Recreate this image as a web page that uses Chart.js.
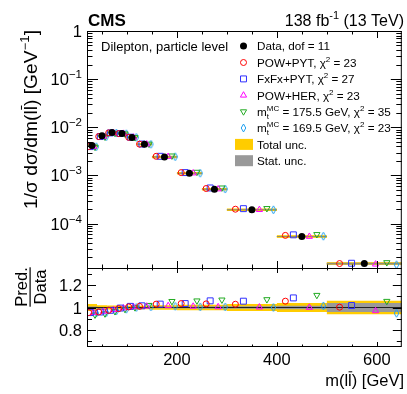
<!DOCTYPE html>
<html><head><meta charset="utf-8">
<script src="https://cdn.jsdelivr.net/npm/chart.js@4.4.1/dist/chart.umd.min.js"></script>
<style>
html,body{margin:0;padding:0;background:#fff;}
#wrap{position:relative;width:407px;height:394px;overflow:hidden;}
canvas{position:absolute;left:0;top:0;}
</style></head><body>
<div id="wrap"><canvas id="cTop" width="407" height="394"></canvas><canvas id="cBot" width="407" height="394"></canvas></div>
<script>
// ---------------- data ----------------
const binEdges = [20, 40, 60, 80, 100, 120, 150, 200, 250, 300, 400, 500, 650];
const dataNorm = [4.17e-3, 6.7e-3, 7.85e-3, 7.48e-3, 6.18e-3, 4.43e-3, 2.43e-3, 1.11e-3, 5.2e-4, 1.94e-4, 5.4e-5, 1.48e-5];
const ratioPowPyt  = [0.955, 0.960, 0.975, 0.990, 1.005, 1.010, 1.030, 1.035, 1.032, 1.029, 1.056, 1.003];
const ratioFxFxPyt = [0.955, 0.960, 0.975, 0.995, 1.010, 1.015, 1.030, 1.035, 1.059, 1.056, 1.085, 1.018];
const ratioPowHer  = [0.955, 0.965, 0.980, 0.995, 1.005, 1.010, 1.015, 1.010, 1.005, 1.003, 1.000, 0.970];
const ratioMt1755  = [0.935, 0.945, 0.965, 0.985, 1.000, 1.020, 1.055, 1.060, 1.068, 1.071, 1.109, 1.056];
const ratioMt1695  = [0.950, 0.955, 0.970, 0.985, 1.000, 1.005, 1.010, 1.005, 1.005, 1.000, 1.014, 0.949];
const relTotalUnc  = [0.030, 0.020, 0.017, 0.015, 0.015, 0.015, 0.020, 0.025, 0.025, 0.030, 0.040, 0.060];
const relStatUnc   = [0.008, 0.005, 0.005, 0.005, 0.005, 0.005, 0.006, 0.008, 0.010, 0.012, 0.015, 0.040];
const legendLabels = ['Data, dof = 11', 'POW+PYT, χ² = 23', 'FxFx+PYT, χ² = 27', 'POW+HER, χ² = 23', 'mt 175.5', 'mt 169.5', 'Total unc.', 'Stat. unc.'];
const xTickLabels = [200, 400, 600];
const yTickLabelsUpper = [1, 0.1, 0.01, 0.001, 0.0001];
const yTickLabelsRatio = [0.8, 1, 1.2];

// ---------------- styles ----------------
const FONT = '"Liberation Sans", Arial, Helvetica, sans-serif';
const font = (s, b) => (b ? 'bold ' : '') + s + 'px ' + FONT;
const YELLOW = '#ffcc00', GRAY = '#999999';
const mcColors = ['#ff0000', '#3030ff', '#ff00ff', '#22aa22', '#1ea0f0'];
const mcOffsets = [-0.33, -0.17, 0.15, 0.30, 0.43];
const ratioSets = [ratioPowPyt, ratioFxFxPyt, ratioPowHer, ratioMt1755, ratioMt1695];

function makeDiamond(color) {
  const c = document.createElement('canvas'); c.width = 7; c.height = 10;
  const g = c.getContext('2d'); g.strokeStyle = color; g.lineWidth = 1;
  g.beginPath(); g.moveTo(3.5, 1); g.lineTo(5.8, 5); g.lineTo(3.5, 9); g.lineTo(1.2, 5); g.closePath(); g.stroke();
  return c;
}
const diamondImg = makeDiamond(mcColors[4]);
const mcPointStyle = [
  {pointStyle: 'circle', radius: 3, rotation: 0},
  {pointStyle: 'rect', radius: 4.2, rotation: 0},
  {pointStyle: 'triangle', radius: 3.6, rotation: 0},
  {pointStyle: 'triangle', radius: 3.6, rotation: 180},
  {pointStyle: diamondImg, radius: 3, rotation: 0}
];

const centers = binEdges.slice(0, -1).map((e, i) => (e + binEdges[i + 1]) / 2);
const widths = binEdges.slice(0, -1).map((e, i) => binEdges[i + 1] - e);

function stepPts(vals) {
  const p = vals.map((v, i) => ({x: binEdges[i], y: v}));
  p.push({x: binEdges[binEdges.length - 1], y: vals[vals.length - 1]});
  return p;
}
function segPts(vals) {
  const p = [];
  vals.forEach((v, i) => { p.push({x: binEdges[i], y: v}); p.push({x: binEdges[i + 1], y: v}); p.push({x: binEdges[i + 1], y: null}); });
  return p;
}
function bandSets(hi, lo, color, order) {
  return [
    {type: 'line', data: stepPts(hi), stepped: true, fill: '+1', backgroundColor: color, borderColor: 'rgba(0,0,0,0)', borderWidth: 0, pointRadius: 0, order: order},
    {type: 'line', data: stepPts(lo), stepped: true, fill: false, borderColor: 'rgba(0,0,0,0)', borderWidth: 0, pointRadius: 0, order: order}
  ];
}
function mcSets(valsFn) {
  return ratioSets.map((r, k) => ({
    type: 'scatter',
    data: r.map((rv, i) => ({x: centers[i] + mcOffsets[k] * widths[i], y: valsFn(rv, i)})),
    pointStyle: mcPointStyle[k].pointStyle, pointRadius: mcPointStyle[k].radius, pointRotation: mcPointStyle[k].rotation,
    borderColor: mcColors[k], backgroundColor: 'rgba(0,0,0,0)', borderWidth: 1, pointHoverRadius: mcPointStyle[k].radius,
    order: 2 + k
  }));
}

// ---------------- text helpers ----------------
function measureSegs(ctx, segs) {
  let w = 0;
  for (const g of segs) { ctx.font = font(g.s, g.b); const mw = ctx.measureText(g.t).width; if (!g.noAdv) w += mw; }
  return w;
}
function drawSegs(ctx, segs, x, y, align) {
  let w = measureSegs(ctx, segs);
  let cx = align === 'right' ? x - w : (align === 'center' ? x - w / 2 : x);
  ctx.textBaseline = 'alphabetic'; ctx.textAlign = 'left';
  for (const g of segs) {
    ctx.font = font(g.s, g.b);
    const mw = ctx.measureText(g.t).width;
    ctx.fillText(g.t, cx, y + (g.dy || 0));
    if (g.bar) { ctx.save(); ctx.strokeStyle = ctx.fillStyle; ctx.lineWidth = 1; ctx.beginPath(); ctx.moveTo(cx + 0.5, y - g.s * 0.86); ctx.lineTo(cx + mw + 0.5, y - g.s * 0.86); ctx.stroke(); ctx.restore(); }
    if (!g.noAdv) cx += mw;
  }
}
function drawMarker(ctx, k, x, y) {
  ctx.save();
  ctx.strokeStyle = mcColors[k]; ctx.lineWidth = 1; ctx.fillStyle = 'rgba(0,0,0,0)';
  const st = mcPointStyle[k];
  if (typeof st.pointStyle !== 'string') { ctx.drawImage(st.pointStyle, Math.round(x - st.pointStyle.width / 2), Math.round(y - st.pointStyle.height / 2)); }
  else if (Chart.helpers && Chart.helpers.drawPoint) {
    Chart.helpers.drawPoint(ctx, {pointStyle: st.pointStyle, radius: st.radius, rotation: st.rotation, borderWidth: 1}, x, y);
  }
  ctx.restore();
}

// ---------------- decorations plugin ----------------
function ticksX(ctx, ca, xs, majLen, minLen, top, bottom) {
  for (let v = 50; v < 650; v += 50) {
    const px = Math.round(xs.getPixelForValue(v)) + 0.5;
    const L = (v % 200 === 0) ? majLen : minLen;
    ctx.beginPath();
    if (bottom) { ctx.moveTo(px, ca.bottom); ctx.lineTo(px, ca.bottom - L); }
    if (top) { ctx.moveTo(px, ca.top); ctx.lineTo(px, ca.top + L); }
    ctx.stroke();
  }
}
const decoTop = {
  id: 'decoTop',
  afterDraw(chart) {
    const ctx = chart.ctx, ca = chart.chartArea, xs = chart.scales.x, ys = chart.scales.y;
    ctx.save();
    ctx.strokeStyle = '#000'; ctx.fillStyle = '#000'; ctx.lineWidth = 1;
    ctx.strokeRect(ca.left + 0.5, ca.top + 0.5, ca.right - ca.left - 1, ca.bottom - ca.top);
    ticksX(ctx, ca, xs, 7, 3.5, true, true);
    for (let e = -5; e <= 0; e++) {
      for (let m = 1; m <= 9; m++) {
        const v = m * Math.pow(10, e);
        if (v < ys.min || v > ys.max) continue;
        const py = Math.round(ys.getPixelForValue(v)) + 0.5;
        const L = m === 1 ? 11 : 5.5;
        ctx.beginPath(); ctx.moveTo(ca.left, py); ctx.lineTo(ca.left + L, py);
        ctx.moveTo(ca.right, py); ctx.lineTo(ca.right - L, py); ctx.stroke();
      }
    }
    // y tick labels
    yTickLabelsUpper.forEach(v => {
      const py = ys.getPixelForValue(v);
      const e = Math.round(Math.log10(v));
      const segs = e === 0 ? [{t: '1', s: 16.5}] : [{t: '10', s: 16.5}, {t: '\u2212' + (-e), s: 11.5, dy: -7}];
      drawSegs(ctx, segs, 82, py + 6, 'right');
    });
    // y title
    ctx.save();
    ctx.translate(36.5, 30); ctx.rotate(-Math.PI / 2); ctx.scale(1.1, 1);
    drawSegs(ctx, [{t: '1/σ dσ/dm(l', s: 17.5}, {t: 'l', s: 17.5, bar: true}, {t: ') [GeV', s: 17.5}, {t: '\u22121', s: 12, dy: -8}, {t: ']', s: 17.5}], 0, 0, 'right');
    ctx.restore();
    // header
    drawSegs(ctx, [{t: 'CMS', s: 17, b: true}], 88, 26, 'left');
    drawSegs(ctx, [{t: '138 fb', s: 16}, {t: '-1', s: 11, dy: -7}, {t: ' (13 TeV)', s: 16}], 404, 26, 'right');
    drawSegs(ctx, [{t: 'Dilepton, particle level', s: 13}], 101, 51, 'left');
    // legend
    const rowsY = [46, 62.5, 78.9, 95.3, 111.6, 128, 144.4, 160.7];
    const mx = 243.5, tx = 257;
    const LS = 11.7;
    ctx.beginPath(); ctx.arc(mx, rowsY[0], 3.5, 0, Math.PI * 2); ctx.fill();
    for (let k = 0; k < 5; k++) drawMarker(ctx, k, mx, rowsY[k + 1]);
    const bl = (y) => y + 4.2;
    drawSegs(ctx, [{t: legendLabels[0], s: LS}], tx, bl(rowsY[0]), 'left');
    for (let k = 1; k <= 3; k++) {
      const parts = legendLabels[k].split('χ²');
      drawSegs(ctx, [{t: parts[0] + 'χ', s: LS}, {t: '2', s: 8, dy: -5}, {t: parts[1], s: LS}], tx, bl(rowsY[k]), 'left');
    }
    drawSegs(ctx, [{t: 'm', s: LS}, {t: 't', s: 8, dy: 3, noAdv: true}, {t: 'MC', s: 8, dy: -5}, {t: ' = 175.5 GeV, χ', s: LS}, {t: '2', s: 8, dy: -5}, {t: ' = 35', s: LS}], tx, bl(rowsY[4]), 'left');
    drawSegs(ctx, [{t: 'm', s: LS}, {t: 't', s: 8, dy: 3, noAdv: true}, {t: 'MC', s: 8, dy: -5}, {t: ' = 169.5 GeV, χ', s: LS}, {t: '2', s: 8, dy: -5}, {t: ' = 23', s: LS}], tx, bl(rowsY[5]), 'left');
    ctx.fillStyle = YELLOW; ctx.fillRect(235, rowsY[6] - 5.5, 18, 11);
    ctx.fillStyle = GRAY; ctx.fillRect(235, rowsY[7] - 5.5, 18, 11);
    ctx.fillStyle = '#000';
    drawSegs(ctx, [{t: legendLabels[6], s: LS}], tx, bl(rowsY[6]), 'left');
    drawSegs(ctx, [{t: legendLabels[7], s: LS}], tx, bl(rowsY[7]), 'left');
    ctx.restore();
  }
};
const decoBot = {
  id: 'decoBot',
  afterDraw(chart) {
    const ctx = chart.ctx, ca = chart.chartArea, xs = chart.scales.x, ys = chart.scales.y;
    ctx.save();
    ctx.strokeStyle = '#000'; ctx.fillStyle = '#000'; ctx.lineWidth = 1;
    ctx.strokeRect(ca.left + 0.5, ca.top + 0.5, ca.right - ca.left - 1, ca.bottom - ca.top - 1);
    ticksX(ctx, ca, xs, 5, 2.5, true, true);
    for (let i = 7; i <= 13; i++) {
      const v = i / 10;
      const py = Math.round(ys.getPixelForValue(v)) + 0.5;
      const L = (i % 2 === 0) ? 9 : 5;
      ctx.beginPath(); ctx.moveTo(ca.left, py); ctx.lineTo(ca.left + L, py);
      ctx.moveTo(ca.right, py); ctx.lineTo(ca.right - L, py); ctx.stroke();
    }
    yTickLabelsRatio.forEach(v => drawSegs(ctx, [{t: String(v), s: 16.5}], 82, ys.getPixelForValue(v) + 6, 'right'));
    xTickLabels.forEach(v => drawSegs(ctx, [{t: String(v), s: 16.5}, ], xs.getPixelForValue(v), 365, 'center'));
    drawSegs(ctx, [{t: 'm(l', s: 16.5}, {t: 'l', s: 16.5, bar: true}, {t: ') [GeV]', s: 16.5}], 404, 386, 'right');
    // ratio title (fraction)
    ctx.save();
    ctx.translate(0, 287); ctx.rotate(-Math.PI / 2);
    ctx.font = font(16.5); ctx.textAlign = 'center';
    ctx.fillText('Pred.', 0, 27);
    ctx.fillText('Data', 0, 45.5);
    const w = Math.max(ctx.measureText('Pred.').width, ctx.measureText('Data').width);
    ctx.fillRect(-w / 2, 29.5, w, 1.2);
    ctx.restore();
    ctx.restore();
  }
};

// ---------------- charts ----------------
const commonOpts = (pad, yScale) => ({
  responsive: false, animation: false, events: [],
  layout: {padding: pad},
  plugins: {legend: {display: false}, tooltip: {enabled: false}},
  scales: {
    x: {type: 'linear', min: 20, max: 650, display: false},
    y: Object.assign({display: false}, yScale)
  }
});

const topDatasets = [
  {type: 'scatter', data: dataNorm.map((v, i) => ({x: centers[i], y: v})), pointStyle: 'circle', pointRadius: 3.5, backgroundColor: '#000', borderColor: '#000', borderWidth: 0, order: 0},
  ...mcSets((rv, i) => rv * dataNorm[i]),
  {type: 'line', data: segPts(dataNorm), borderColor: '#8f8f6a', borderWidth: 1, pointRadius: 0, spanGaps: false, order: 9},
  {type: 'line', data: segPts(dataNorm), borderColor: YELLOW, borderWidth: 2.5, pointRadius: 0, spanGaps: false, order: 12},
  ...bandSets(dataNorm.map((v, i) => v * (1 + relStatUnc[i])), dataNorm.map((v, i) => v * (1 - relStatUnc[i])), GRAY, 10),
  ...bandSets(dataNorm.map((v, i) => v * (1 + relTotalUnc[i])), dataNorm.map((v, i) => v * (1 - relTotalUnc[i])), YELLOW, 11)
];
new Chart(document.getElementById('cTop'), {
  type: 'scatter',
  data: {datasets: topDatasets},
  options: commonOpts({left: 87, right: 3, top: 31, bottom: 126}, {type: 'logarithmic', min: 1.2e-5, max: 1}),
  plugins: [decoTop]
});

const ones = dataNorm.map(() => 1);
const botDatasets = [
  ...mcSets((rv) => rv),
  {type: 'line', data: stepPts(ones), stepped: true, borderColor: '#222', borderWidth: 1.2, pointRadius: 0, fill: false, order: 8},
  ...bandSets(relStatUnc.map(u => 1 + u), relStatUnc.map(u => 1 - u), GRAY, 10),
  ...bandSets(relTotalUnc.map(u => 1 + u), relTotalUnc.map(u => 1 - u), YELLOW, 11)
];
new Chart(document.getElementById('cBot'), {
  type: 'scatter',
  data: {datasets: botDatasets},
  options: commonOpts({left: 87, right: 3, top: 268, bottom: 47}, {type: 'linear', min: 0.65, max: 1.35}),
  plugins: [decoBot]
});
</script>
</body></html>
